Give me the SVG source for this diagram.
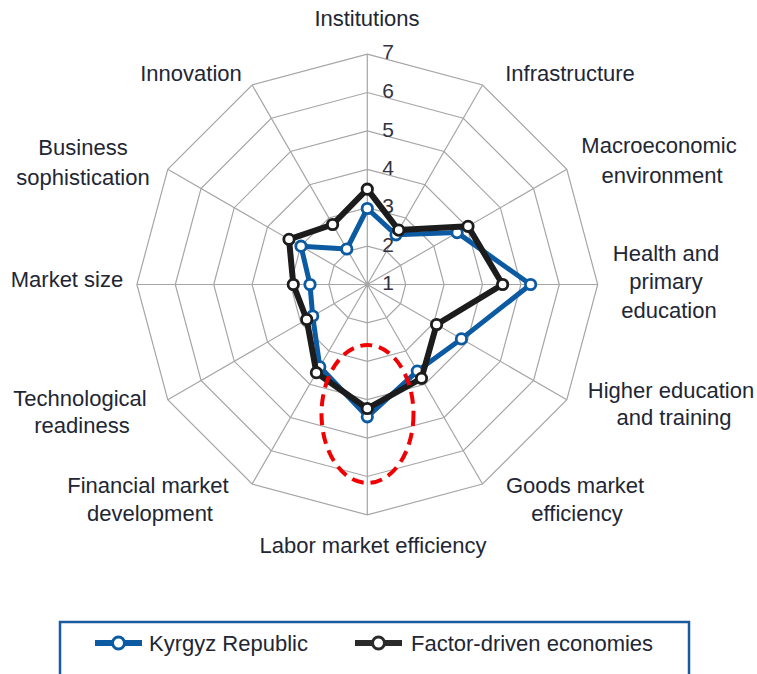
<svg xmlns="http://www.w3.org/2000/svg" xmlns:xlink="http://www.w3.org/1999/xlink" width="757" height="674" viewBox="0 0 757 674">
<style>
.grid{fill:none;stroke:#a6a6a6;stroke-width:1.2}
.lbl{font-family:"Liberation Sans",Arial,sans-serif;font-size:22px;fill:#222634;text-anchor:middle}
.tick{font-family:"Liberation Sans",Arial,sans-serif;font-size:21px;fill:#33343f;text-anchor:middle}
.leg{font-family:"Liberation Sans",Arial,sans-serif;font-size:22px;fill:#222634}
.sblue{fill:none;stroke:#0b5aa2;stroke-width:5;stroke-linejoin:round}
.sblack{fill:none;stroke:#1c1c1c;stroke-width:6;stroke-linejoin:round}
.mblue{fill:#fff;stroke:#0b5aa2;stroke-width:2.8}
.mblack{fill:#fff;stroke:#1c1c1c;stroke-width:2.8}
</style>
<rect width="757" height="674" fill="#fff"/>
<g id="grid" transform="translate(367.3,284.5)">
<polygon class="grid" points="0,-38.4 19.2,-33.25 33.25,-19.2 38.4,0 33.25,19.2 19.2,33.25 0,38.4 -19.2,33.25 -33.25,19.2 -38.4,0 -33.25,-19.2 -19.2,-33.25"/>
<polygon class="grid" points="0,-76.8 38.4,-66.51 66.51,-38.4 76.8,0 66.51,38.4 38.4,66.51 0,76.8 -38.4,66.51 -66.51,38.4 -76.8,0 -66.51,-38.4 -38.4,-66.51"/>
<polygon class="grid" points="0,-115.2 57.6,-99.76 99.76,-57.6 115.2,0 99.76,57.6 57.6,99.76 0,115.2 -57.6,99.76 -99.76,57.6 -115.2,0 -99.76,-57.6 -57.6,-99.76"/>
<polygon class="grid" points="0,-153.6 76.8,-133.02 133.02,-76.8 153.6,0 133.02,76.8 76.8,133.02 0,153.6 -76.8,133.02 -133.02,76.8 -153.6,0 -133.02,-76.8 -76.8,-133.02"/>
<polygon class="grid" points="0,-192 96,-166.27 166.27,-96 192,0 166.27,96 96,166.27 0,192 -96,166.27 -166.27,96 -192,0 -166.27,-96 -96,-166.27"/>
<polygon class="grid" points="0,-230.4 115.2,-199.53 199.53,-115.2 230.4,0 199.53,115.2 115.2,199.53 0,230.4 -115.2,199.53 -199.53,115.2 -230.4,0 -199.53,-115.2 -115.2,-199.53"/>
<path class="grid" d="M0,0L0,-230.4M0,0L115.2,-199.53M0,0L199.53,-115.2M0,0L230.4,0M0,0L199.53,115.2M0,0L115.2,199.53M0,0L0,230.4M0,0L-115.2,199.53M0,0L-199.53,115.2M0,0L-230.4,0M0,0L-199.53,-115.2M0,0L-115.2,-199.53"/>
</g>
<g id="ticks">
<text class="tick" x="388" y="290">1</text>
<text class="tick" x="388" y="252">2</text>
<text class="tick" x="388" y="213">3</text>
<text class="tick" x="388" y="175">4</text>
<text class="tick" x="388" y="137">5</text>
<text class="tick" x="388" y="98">6</text>
<text class="tick" x="388" y="59">7</text>
</g>
<g id="connectors" transform="translate(367.3,284.5)">
<g id="series-kyrgyz">
<polygon class="sblue" points="0,-76 28.7,-49.7 89.8,-51.9 163.3,0 94.1,54.4 50,86.6 0,132.3 -47.5,82.3 -54.6,31.5 -57.3,0 -66.3,-38.3 -20.5,-35.5"/>
<circle class="mblue" r="5.2" cx="0" cy="-76"/><circle class="mblue" r="5.2" cx="28.7" cy="-49.7"/><circle class="mblue" r="5.2" cx="89.8" cy="-51.9"/><circle class="mblue" r="5.2" cx="163.3" cy="0"/><circle class="mblue" r="5.2" cx="94.1" cy="54.4"/><circle class="mblue" r="5.2" cx="50" cy="86.6"/><circle class="mblue" r="5.2" cx="0" cy="132.3"/><circle class="mblue" r="5.2" cx="-47.5" cy="82.3"/><circle class="mblue" r="5.2" cx="-54.6" cy="31.5"/><circle class="mblue" r="5.2" cx="-57.3" cy="0"/><circle class="mblue" r="5.2" cx="-66.3" cy="-38.3"/><circle class="mblue" r="5.2" cx="-20.5" cy="-35.5"/>
</g>
<g id="series-factor">
<polygon class="sblack" points="0,-95.3 31.4,-54.4 100.7,-58.2 135.3,0 69.3,40 54.2,93.8 0,124 -50.9,88.2 -60.6,35 -74,0 -78.3,-45.2 -34.7,-60"/>
<circle class="mblack" r="5.2" cx="0" cy="-95.3"/><circle class="mblack" r="5.2" cx="31.4" cy="-54.4"/><circle class="mblack" r="5.2" cx="100.7" cy="-58.2"/><circle class="mblack" r="5.2" cx="135.3" cy="0"/><circle class="mblack" r="5.2" cx="69.3" cy="40"/><circle class="mblack" r="5.2" cx="54.2" cy="93.8"/><circle class="mblack" r="5.2" cx="0" cy="124"/><circle class="mblack" r="5.2" cx="-50.9" cy="88.2"/><circle class="mblack" r="5.2" cx="-60.6" cy="35"/><circle class="mblack" r="5.2" cx="-74" cy="0"/><circle class="mblack" r="5.2" cx="-78.3" cy="-45.2"/><circle class="mblack" r="5.2" cx="-34.7" cy="-60"/>
</g>
</g>
<g id="highlight">
<ellipse cx="367.5" cy="414" rx="46" ry="69" fill="none" stroke="#f00000" stroke-width="4" stroke-dasharray="12,7"/>
</g>
<g id="labels">
<text class="lbl" x="367" y="26">Institutions</text>
<text class="lbl" x="570" y="81">Infrastructure</text>
<text class="lbl" x="659" y="153">Macroeconomic</text>
<text class="lbl" x="662" y="183">environment</text>
<text class="lbl" x="666" y="261">Health and</text>
<text class="lbl" x="666" y="289">primary</text>
<text class="lbl" x="669" y="318">education</text>
<text class="lbl" x="671" y="398">Higher education</text>
<text class="lbl" x="674" y="425">and training</text>
<text class="lbl" x="575" y="493">Goods market</text>
<text class="lbl" x="577" y="521">efficiency</text>
<text class="lbl" x="373" y="553">Labor market efficiency</text>
<text class="lbl" x="148" y="493">Financial market</text>
<text class="lbl" x="150" y="521">development</text>
<text class="lbl" x="80" y="406">Technological</text>
<text class="lbl" x="82" y="433">readiness</text>
<text class="lbl" x="67" y="287">Market size</text>
<text class="lbl" x="83" y="155">Business</text>
<text class="lbl" x="83" y="185">sophistication</text>
<text class="lbl" x="191" y="81">Innovation</text>
</g>
<g id="legend">
<rect x="60" y="622" width="629" height="80" fill="none" stroke="#1a5aa0" stroke-width="2.5"/>
<line x1="95" y1="643" x2="142" y2="643" stroke="#0b5aa2" stroke-width="6"/>
<circle cx="118.5" cy="643" r="6" fill="#fff" stroke="#0b5aa2" stroke-width="3"/>
<text class="leg" x="149" y="651">Kyrgyz Republic</text>
<line x1="355" y1="643" x2="402" y2="643" stroke="#2a2a2a" stroke-width="6"/>
<circle cx="378.5" cy="643" r="6" fill="#fff" stroke="#2a2a2a" stroke-width="3"/>
<text class="leg" x="411" y="651">Factor-driven economies</text>
</g>
</svg>
